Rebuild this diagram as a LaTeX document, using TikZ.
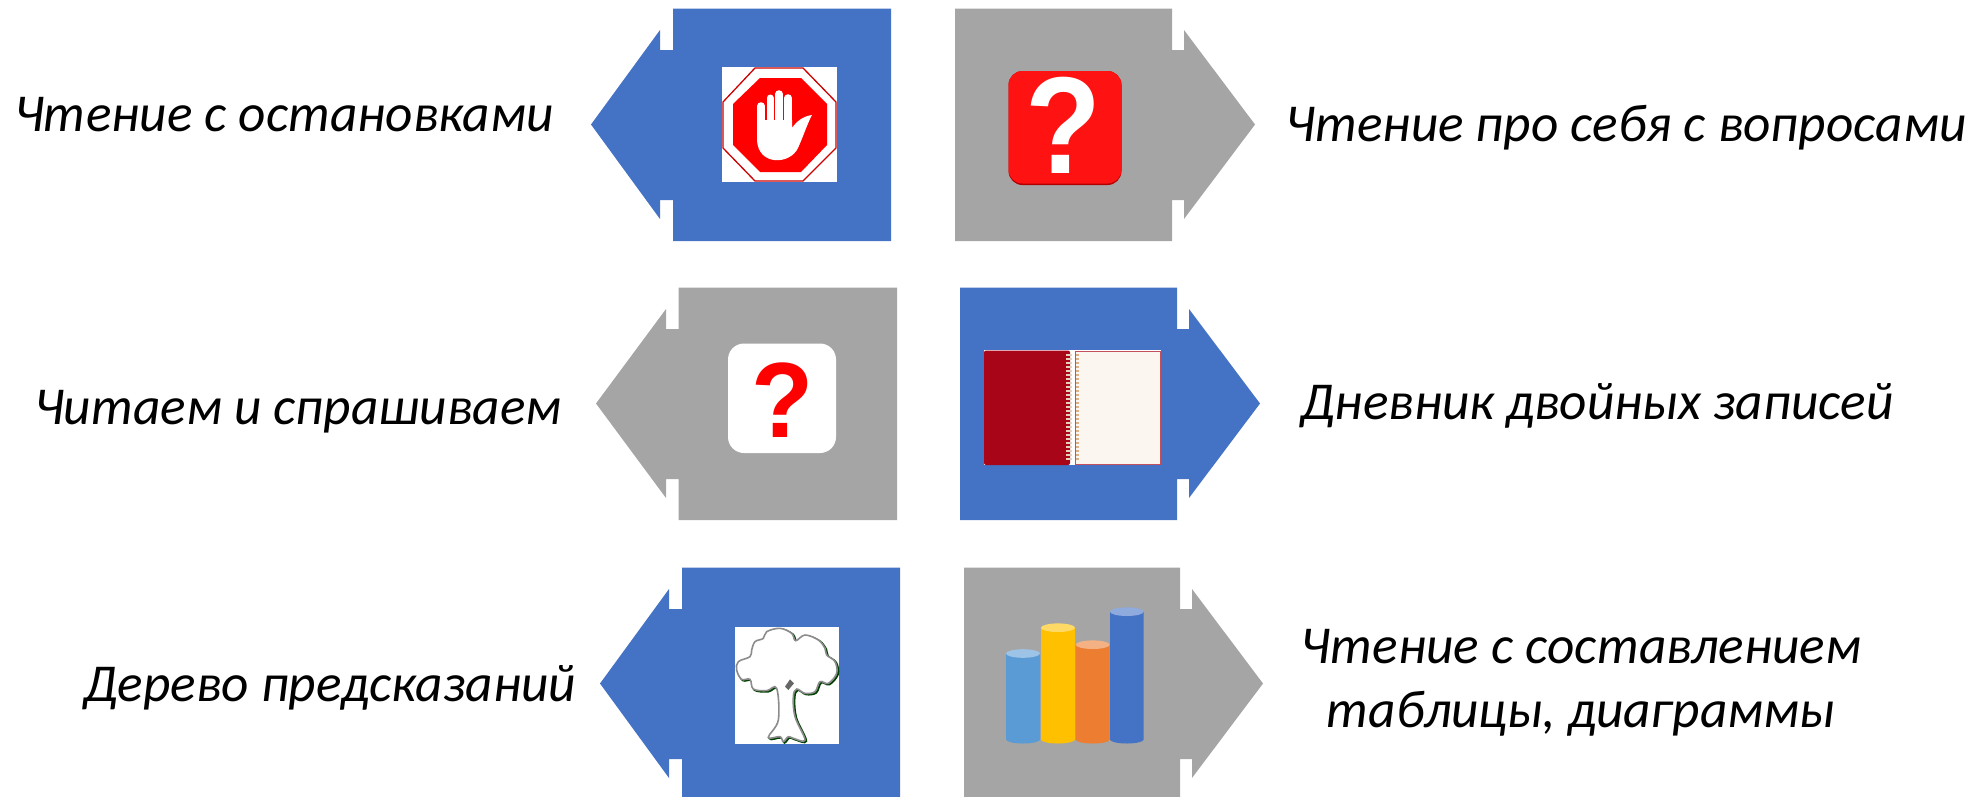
\documentclass[tikz,border=0pt]{standalone}
\usepackage{fontspec}
\setmainfont{Carlito}
\newfontfamily\qfont{Liberation Sans}
\definecolor{blueb}{HTML}{4472C4}
\definecolor{greyb}{HTML}{A5A5A5}
\definecolor{coverred}{HTML}{A80518}
\definecolor{pagecol}{HTML}{FBF6EF}
\definecolor{barA}{HTML}{5B9BD5}
\definecolor{barAt}{HTML}{9DC3E6}
\definecolor{barB}{HTML}{FFC000}
\definecolor{barBt}{HTML}{FFD966}
\definecolor{barC}{HTML}{ED7D31}
\definecolor{barCt}{HTML}{F4B183}
\definecolor{barD}{HTML}{4472C4}
\definecolor{barDt}{HTML}{8FAADC}
\tikzset{
  lbl/.style={font=\fontsize{53.3}{64}\selectfont\itshape, align=center, inner sep=0pt, text=black, anchor=base},
  iconbg/.style={fill=white, draw=none},
  finger/.style={white, line width=7.6pt, line cap=round},
}
% #1 far edge, #2 near edge (head side), #3 notch, #4 tip, #5 y offset, #6 colour
\newcommand{\blockarrow}[6]{%
  \fill[#6] (#1,8.7+#5) -- (#2,8.7+#5) -- (#2,50+#5) -- (#3,50+#5) -- (#3,30+#5) -- (#4,124.5+#5)
    -- (#3,219+#5) -- (#3,200+#5) -- (#2,200+#5) -- (#2,241+#5) -- (#1,241+#5) -- cycle;}
% #1 left, #2 right, #3 top y, #4 side colour, #5 top colour
\newcommand{\colbar}[5]{%
  \fill[#4] (#1,#3) -- (#1,739.5) arc[start angle=180,end angle=0,x radius={(#2-#1)/2},y radius=4] -- (#2,#3) -- cycle;
  \fill[#5] ({(#1+#2)/2},#3) ellipse[x radius={(#2-#1)/2},y radius=4.3];}
\begin{document}
\begin{tikzpicture}[x=1pt,y=-1pt]
\useasboundingbox (0,0) rectangle (1973,796);
\begin{scope}
\clip (0,0) rectangle (1973,796);
\blockarrow{891}{673}{660}{591}{0}{blueb}
\blockarrow{955}{1172}{1184}{1255}{0}{greyb}
\blockarrow{897}{678.5}{666}{596}{279}{greyb}
\blockarrow{960}{1177}{1189}{1260}{279}{blueb}
\blockarrow{900}{682}{669}{600}{559}{blueb}
\blockarrow{964}{1180}{1192}{1263}{559}{greyb}
\end{scope}
% stop sign
\fill[iconbg] (722,67) rectangle (837,182);
\draw[red!80!black, line width=1.3pt] (755,68) -- (803,68) -- (836,102) -- (836,148) -- (803,181) -- (755,181) -- (723,148) -- (723,102) -- cycle;
\fill[red] (760,78) -- (801,78) -- (827,104) -- (827,145) -- (801,172) -- (760,172) -- (733,145) -- (733,104) -- cycle;
\draw[finger] (761,106) -- (761,130);
\draw[finger, line width=7pt] (770,98) -- (770,130);
\draw[finger] (779,94) -- (779,130);
\draw[finger] (788,98) -- (788,130);
\fill[white] (757,120) -- (792,120) -- (792,128) .. controls (796,122) and (803,116) .. (812,115) .. controls (808,122) and (803,137) .. (798,148)
  .. controls (790,165) and (758,166) .. (757,140) -- cycle;
% red icon with question mark
\fill[red!70!black, rounded corners=14pt] (1008.5,71) rectangle (1121.5,185);
\fill[red!93!white, rounded corners=14pt] (1008.5,71) rectangle (1121.5,183.5);
\node[text=white, inner sep=0pt, anchor=base, font=\qfont\bfseries\fontsize{138}{138}\selectfont] (qa) at (1063,173) {\scalebox{0.9}[1]{?}};
% white icon with question mark
\fill[iconbg, rounded corners=16pt] (728,343.5) rectangle (836,453);
\node[text=red, inner sep=0pt, anchor=base, font=\qfont\bfseries\fontsize{107}{107}\selectfont] (qb) at (783,437) {\scalebox{0.95}[1]{?}};
% notebook
\fill[iconbg] (984,350) rectangle (1161,465);
\fill[coverred, rounded corners=2pt] (984,350.5) rectangle (1070,465);
\fill[pagecol] (1075,351) rectangle (1160.5,464.5);
\draw[coverred!70!white, line width=1pt] (1075,351) rectangle (1160.5,464.5);
\draw[brown!35!white, line width=6pt, dash pattern=on 2.2pt off 1.8pt] (1069,354) -- (1069,460);
\draw[brown!60!white, line width=2.6pt, dash pattern=on 2pt off 2pt] (1077.5,354) -- (1077.5,460);
% tree
\fill[iconbg] (735,627) rectangle (839,744);
\begin{scope}[shift={(725,620)},x=0.3333pt,y=-0.3333pt]
\draw[black!75!green, line width=2pt, xshift=1.2pt, yshift=-1pt] plot[smooth cycle, tension=0.6] coordinates {(155,205) (125,212) (85,207) (75,178) (50,178) (35,150) (40,125) (75,110) (80,90) (90,65) (115,55) (125,35) (165,25) (200,40) (212,62) (240,45) (280,60) (300,85) (305,105) (330,125) (335,160) (310,190) (285,185) (270,215) (240,220) (215,207) (205,230) (210,290) (240,360) (205,355) (190,350) (175,365) (165,350) (130,352) (160,300)};
\draw[black!45, line width=1.6pt, fill=white] plot[smooth cycle, tension=0.6] coordinates {(155,205) (125,212) (85,207) (75,178) (50,178) (35,150) (40,125) (75,110) (80,90) (90,65) (115,55) (125,35) (165,25) (200,40) (212,62) (240,45) (280,60) (300,85) (305,105) (330,125) (335,160) (310,190) (285,185) (270,215) (240,220) (215,207) (205,230) (210,290) (240,360) (205,355) (190,350) (175,365) (165,350) (130,352) (160,300)};
\fill[black!60] (195,178) -- (207,190) -- (190,210) -- (180,200) -- cycle;
\end{scope}
% bars
\colbar{1006}{1040}{653.5}{barA}{barAt}
\colbar{1041}{1075}{627.7}{barB}{barBt}
\colbar{1075.7}{1109.7}{644.7}{barC}{barCt}
\colbar{1110}{1143.7}{611.7}{barD}{barDt}
% labels
\node[lbl] (t1) at (284,131) {Чтение с остановками};
\node[lbl] (t2) at (1626,141) {Чтение про себя с вопросами};
\node[lbl] (t3) at (298,424) {Читаем и спрашиваем};
\node[lbl] (t4) at (1597,419) {Дневник двойных записей};
\node[lbl] (t5) at (330,701) {Дерево предсказаний};
\node[lbl] (t6a) at (1581,663) {Чтение с составлением};
\node[lbl] (t6b) at (1581,727) {таблицы, диаграммы};
\end{tikzpicture}
\end{document}
